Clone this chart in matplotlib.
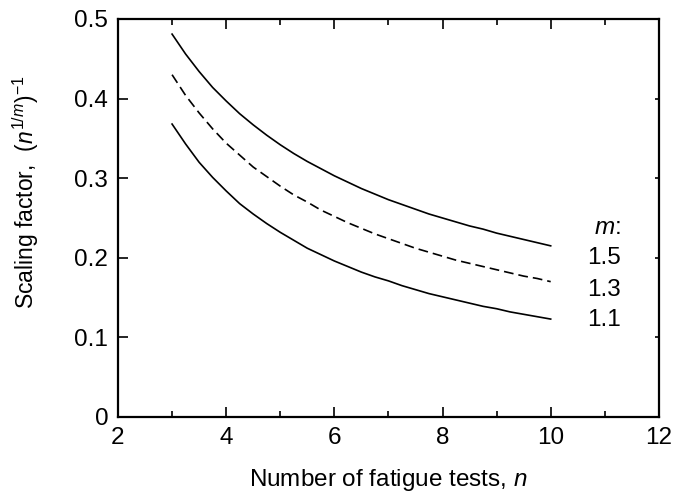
import matplotlib
matplotlib.use('Agg')
import matplotlib.pyplot as plt

plt.rcParams['font.family'] = ['Liberation Sans', 'DejaVu Sans']
plt.rcParams['mathtext.fontset'] = 'custom'
plt.rcParams['mathtext.rm'] = 'Liberation Sans'
plt.rcParams['mathtext.it'] = 'Liberation Sans:italic'
plt.rcParams['lines.scale_dashes'] = False

# values: scaling factor vs number of tests
n_tests = [3.0, 3.25, 3.5, 3.75, 4.0, 4.25, 4.5, 4.75, 5.0, 5.25, 5.5, 5.75,
           6.0, 6.25, 6.5, 6.75, 7.0, 7.25, 7.5, 7.75, 8.0, 8.25, 8.5, 8.75,
           9.0, 9.25, 9.5, 9.75, 10.0]
factor_m15 = [0.481, 0.456, 0.434, 0.414, 0.397, 0.381, 0.367, 0.354, 0.342,
              0.331, 0.321, 0.312, 0.303, 0.295, 0.287, 0.280, 0.273, 0.267,
              0.261, 0.255, 0.250, 0.245, 0.240, 0.236, 0.231, 0.227, 0.223,
              0.219, 0.215]
factor_m13 = [0.430, 0.404, 0.382, 0.362, 0.344, 0.329, 0.314, 0.302, 0.290,
              0.279, 0.270, 0.260, 0.252, 0.244, 0.237, 0.230, 0.224, 0.218,
              0.212, 0.207, 0.202, 0.197, 0.193, 0.189, 0.185, 0.181, 0.177,
              0.174, 0.170]
factor_m11 = [0.368, 0.343, 0.320, 0.301, 0.284, 0.268, 0.255, 0.243, 0.232,
              0.222, 0.212, 0.204, 0.196, 0.189, 0.182, 0.176, 0.171, 0.165,
              0.160, 0.155, 0.151, 0.147, 0.143, 0.139, 0.136, 0.132, 0.129,
              0.126, 0.123]
m_labels = ['1.5', '1.3', '1.1']
m_label_y = [0.200, 0.160, 0.122]

fig = plt.figure(figsize=(6.73, 4.97), dpi=100)
ax = fig.add_axes([0.1753, 0.161, 0.8037, 0.8008])

lw = 1.2
ax.plot(n_tests, factor_m15, color='black', lw=lw)
ax.plot(n_tests, factor_m13, color='black', lw=lw, dashes=(7, 3.6))
ax.plot(n_tests, factor_m11, color='black', lw=lw)

fs = 17.5

# m labels at the right end of the curves
ax.text(11.3, 0.237, r'$m$:', ha='right', va='center', fontsize=fs)
for lab, yy in zip(m_labels, m_label_y):
    ax.text(11.3, yy, lab, ha='right', va='center', fontsize=fs)

ax.set_xlim(2, 12)
ax.set_ylim(0, 0.5)
ax.set_xticks([2, 4, 6, 8, 10, 12])
ax.set_xticks([3, 5, 7, 9, 11], minor=True)
ax.set_yticks([0, 0.1, 0.2, 0.3, 0.4, 0.5])
ax.set_yticklabels(['0', '0.1', '0.2', '0.3', '0.4', '0.5'])

ax.tick_params(axis='x', which='both', direction='in', top=True,
               width=1.2, labelsize=fs, pad=7)
ax.tick_params(axis='x', which='major', length=7)
ax.tick_params(axis='x', which='minor', length=4)
ax.tick_params(axis='y', which='major', direction='in', length=7,
               width=1.2, labelsize=fs, pad=7)

# short ticks on the right side
sec = ax.secondary_yaxis('right')
sec.set_yticks([0.1, 0.2, 0.3, 0.4])
sec.tick_params(direction='in', length=3, width=1.2, labelright=False)
sec.spines['right'].set_visible(False)

for sp in ax.spines.values():
    sp.set_linewidth(1.6)

ax.set_xlabel(r'Number of fatigue tests, $n$', fontsize=fs, labelpad=13)
ax.set_ylabel(r'Scaling factor,  $(n^{1/m})^{-1}$', fontsize=16.5)
ax.yaxis.set_label_coords(-0.142, 0.565)

fig.savefig('out.png', dpi=100)
